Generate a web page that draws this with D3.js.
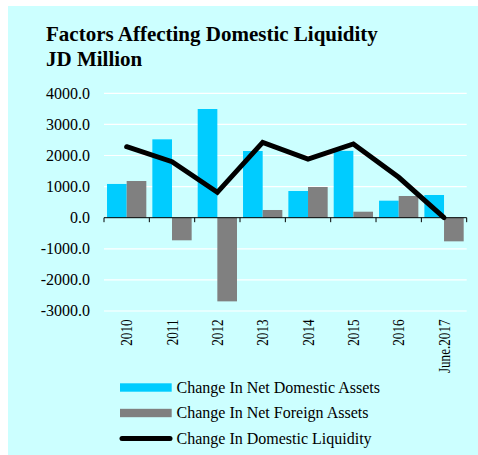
<!DOCTYPE html>
<html>
<head>
<meta charset="utf-8">
<script src="https://cdn.jsdelivr.net/npm/d3@7"></script>
<style>
    body { margin: 0; background: #ffffff; }
    svg { display: block; }
    text { font-family: "Liberation Serif", "Times New Roman", serif; fill: #000; }
</style>
</head>
<body>
<div id="chart"></div>
<script>
(function () {
    var width = 478;
    var height = 455;

    var categories = ["2010", "2011", "2012", "2013", "2014", "2015", "2016", "June.2017"];
    var netDomestic = [1085, 2520, 3495, 2145, 858, 2150, 547, 730];
    var netForeign = [1180, -727, -2690, 248, 987, 193, 698, -760];
    var liquidity = [2283, 1800, 816, 2424, 1887, 2370, 1300, 0];
    var yTicks = [-3000, -2000, -1000, 0, 1000, 2000, 3000, 4000];
    var seriesNames = ["Change In Net Domestic Assets", "Change In Net Foreign Assets", "Change In Domestic Liquidity"];

    var blue = "#00ccff";
    var grey = "#808080";

    var svg = d3.select("#chart")
        .append("svg")
        .attr("width", width)
        .attr("height", height);

    // panel background
    svg.append("rect")
        .attr("x", 8)
        .attr("y", 6)
        .attr("width", width - 8)
        .attr("height", height - 6)
        .attr("fill", "#ccffff");

    svg.append("text")
        .attr("x", 46)
        .attr("y", 40.5)
        .attr("font-size", 21)
        .attr("font-weight", "bold")
        .text("Factors Affecting Domestic Liquidity");
    svg.append("text")
        .attr("x", 46)
        .attr("y", 65.5)
        .attr("font-size", 21)
        .attr("font-weight", "bold")
        .text("JD Million");

    var left = 104, right = 466.7;
    var y = d3.scaleLinear().domain([-3000, 4000]).range([311, 93.3]);
    var x0 = d3.scaleBand()
        .domain(categories)
        .range([left, right])
        .paddingInner(0.133)
        .paddingOuter(0.0665);
    var x1 = d3.scaleBand()
        .domain([0, 1])
        .range([0, x0.bandwidth()]);

    // grid lines
    svg.append("g")
        .selectAll("line")
        .data(yTicks.filter(function (d) { return d !== 0; }))
        .enter()
        .append("line")
        .attr("x1", left)
        .attr("x2", right)
        .attr("y1", function (d) { return y(d); })
        .attr("y2", function (d) { return y(d); })
        .attr("stroke", "#ffffff")
        .attr("stroke-width", 1.2);

    // y labels (plain hyphen for negatives, as in the source)
    svg.append("g")
        .selectAll("text")
        .data(yTicks)
        .enter()
        .append("text")
        .attr("x", 90)
        .attr("y", function (d) { return y(d); })
        .attr("dy", "0.34em")
        .attr("text-anchor", "end")
        .attr("font-size", 16)
        .text(function (d) { return d.toFixed(1); });

    // bars
    var groups = svg.append("g")
        .selectAll("g")
        .data(categories)
        .enter()
        .append("g")
        .attr("transform", function (d) { return "translate(" + x0(d) + ",0)"; });

    groups.selectAll("rect")
        .data(function (d, i) { return [netDomestic[i], netForeign[i]]; })
        .enter()
        .append("rect")
        .attr("x", function (d, j) { return x1(j); })
        .attr("width", x1.bandwidth())
        .attr("y", function (d) { return y(Math.max(0, d)); })
        .attr("height", function (d) { return Math.abs(y(d) - y(0)); })
        .attr("fill", function (d, j) { return j === 0 ? blue : grey; });

    // zero axis with ticks at category boundaries
    var gap = (x0.step() - x0.bandwidth()) / 2;
    var bounds = categories.map(function (d) { return x0(d) - gap; }).concat([right]);
    var axis = svg.append("g");
    axis.append("line")
        .attr("x1", left)
        .attr("x2", right)
        .attr("y1", y(0))
        .attr("y2", y(0))
        .attr("stroke", "#000")
        .attr("stroke-width", 1);
    axis.selectAll(".tick")
        .data(bounds)
        .enter()
        .append("line")
        .attr("class", "tick")
        .attr("x1", function (d) { return d; })
        .attr("x2", function (d) { return d; })
        .attr("y1", y(0))
        .attr("y2", y(0) + 4.5)
        .attr("stroke", "#000")
        .attr("stroke-width", 1);

    // line series
    var line = d3.line()
        .x(function (d, i) { return x0(categories[i]) + x0.bandwidth() / 2; })
        .y(function (d) { return y(d); });
    svg.append("path")
        .datum(liquidity)
        .attr("d", line)
        .attr("fill", "none")
        .attr("stroke", "#000")
        .attr("stroke-width", 5)
        .attr("stroke-linejoin", "miter")
        .attr("stroke-linecap", "round");

    // x labels, rotated
    svg.append("g")
        .selectAll("text")
        .data(categories)
        .enter()
        .append("text")
        .attr("transform", function (d) {
            return "translate(" + (x0(d) + x0.bandwidth() / 2 + 5.5) + ",319.5) rotate(-90) scale(0.82,1)";
        })
        .attr("text-anchor", "end")
        .attr("font-size", 16)
        .text(function (d) { return d; });

    // legend
    var legend = svg.append("g")
        .selectAll("g")
        .data(seriesNames)
        .enter()
        .append("g")
        .attr("transform", function (d, i) { return "translate(0," + (387.5 + i * 25.5) + ")"; });

    legend.each(function (d, i) {
        var g = d3.select(this);
        if (i < 2) {
            g.append("rect")
                .attr("x", 120)
                .attr("y", -4.2)
                .attr("width", 51.7)
                .attr("height", 8.4)
                .attr("fill", i === 0 ? blue : grey);
        } else {
            g.append("line")
                .attr("x1", 122)
                .attr("x2", 170)
                .attr("y1", 0)
                .attr("y2", 0)
                .attr("stroke", "#000")
                .attr("stroke-width", 5)
                .attr("stroke-linecap", "round");
        }
        g.append("text")
            .attr("x", 176.5)
            .attr("y", 5.3)
            .attr("font-size", 16)
            .text(d);
    });
}());
</script>
</body>
</html>
